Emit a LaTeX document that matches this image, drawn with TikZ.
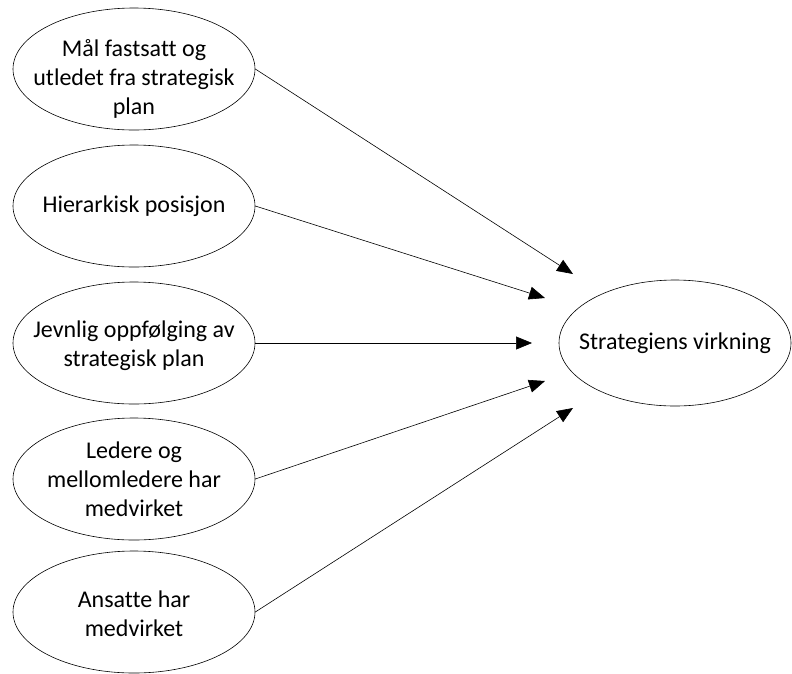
\documentclass[tikz,border=0pt]{standalone}
\usepackage{fontspec}
\setmainfont{Carlito}[Ligatures=NoCommon]
\usetikzlibrary{shapes.geometric,arrows.meta}

\begin{document}
\begin{tikzpicture}[x=1pt,y=-1pt,
    oval/.style={draw,ellipse,minimum width=242pt,minimum height=122pt,inner sep=0pt,line width=0.6pt},
    txt/.style={align=center,font=\fontsize{24}{29}\selectfont},
    pil/.style={line width=0.6pt,-{Triangle[length=16pt,width=13pt]}}]
      \useasboundingbox (0,0) rectangle (792,673);
      \node[oval,label={[txt,yshift=-10pt]center:Mål fastsatt og\\utledet fra strategisk\\plan}] (maal) at (134,69) {};
      \node[oval,label={[txt]center:Hierarkisk posisjon}] (posisjon) at (134,206) {};
      \node[oval,label={[txt,yshift=-3pt]center:Jevnlig oppfølging av\\strategisk plan}] (oppfolging) at (134,343) {};
      \node[oval,label={[txt]center:Ledere og\\mellomledere har\\medvirket}] (ledere) at (134,479) {};
      \node[oval,label={[txt,yshift=-2pt]center:Ansatte har\\medvirket}] (ansatte) at (134,612) {};
      \node[oval,minimum width=232pt,minimum height=126pt,label={[txt]center:Strategiens virkning}] (virkning) at (675,343) {};
      \coordinate (t1) at (573,274);
      \coordinate (t2) at (545,298);
      \coordinate (t3) at (532,343);
      \coordinate (t4) at (545,381);
      \coordinate (t5) at (573,408);
      \draw[pil] (maal.east) -- (t1);
      \draw[pil] (posisjon.east) -- (t2);
      \draw[pil] (oppfolging.east) -- (t3);
      \draw[pil] (ledere.east) -- (t4);
      \draw[pil] (ansatte.east) -- (t5);
\end{tikzpicture}
\end{document}
